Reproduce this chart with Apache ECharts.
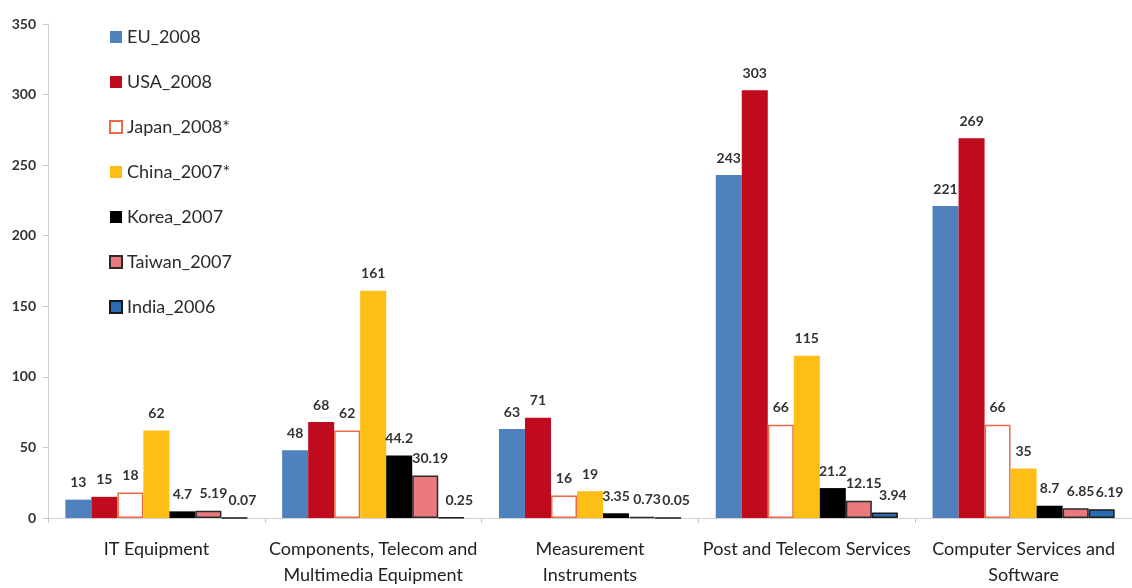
<!DOCTYPE html>
<html>
<head>
<meta charset="utf-8">
<script src="https://cdn.jsdelivr.net/npm/echarts@6/dist/echarts.min.js"></script>
<style>
  html, body { margin: 0; padding: 0; background: #fff; }
  #chart { width: 1132px; height: 588px; }
</style>
</head>
<body>
<div id="chart"></div>
<script>
const categories = ['IT Equipment', 'Components, Telecom and\nMultimedia Equipment', 'Measurement\nInstruments', 'Post and Telecom Services', 'Computer Services and\nSoftware']
const seriesNames = ['EU_2008', 'USA_2008', 'Japan_2008*', 'China_2007*', 'Korea_2007', 'Taiwan_2007', 'India_2006']
const eu = [13, 48, 63, 243, 221]
const usa = [15, 68, 71, 303, 269]
const japan = [18, 62, 16, 66, 66]
const china = [62, 161, 19, 115, 35]
const korea = [4.7, 44.2, 3.35, 21.2, 8.7]
const taiwan = [5.19, 30.19, 0.73, 12.15, 6.85]
const india = [0.07, 0.25, 0.05, 3.94, 6.19]
const yTicks = { min: 0, max: 350, interval: 50 }

const values = [eu, usa, japan, china, korea, taiwan, india]
// fill / border per series
const styles = [
  { color: '#4F81BD', borderColor: '#4F81BD', borderWidth: 0 },
  { color: '#C00A1E', borderColor: '#C00A1E', borderWidth: 0 },
  { color: '#ffffff', borderColor: '#EE6A45', borderWidth: 1.5 },
  { color: '#FDBE16', borderColor: '#FDBE16', borderWidth: 0 },
  { color: '#000000', borderColor: '#000000', borderWidth: 0 },
  { color: '#EB7A80', borderColor: '#2a2a2a', borderWidth: 1.5 },
  { color: '#2A6BB2', borderColor: '#1a1a1a', borderWidth: 1.5 },
]

const font = 'Lato, "Open Sans", sans-serif'

const chart = echarts.init(document.getElementById('chart'))

chart.setOption({
  animation: false,
  textStyle: { fontFamily: font },
  legend: {
    orient: 'vertical',
    left: 104,
    top: 23,
    itemGap: 27,
    itemWidth: 12,
    itemHeight: 12,
    icon: 'rect',
    textStyle: { fontSize: 18, color: '#2b2b2b', fontFamily: font },
    data: seriesNames,
  },
  grid: { left: 48, right: 0, top: 24, bottom: 65, containLabel: false },
  xAxis: {
    type: 'category',
    data: categories,
    axisLine: { lineStyle: { color: '#d0d0d0' } },
    axisTick: { show: true, alignWithLabel: false, length: 5, lineStyle: { color: '#c8c8c8' } },
    axisLabel: { color: '#222', fontSize: 18, margin: 18, lineHeight: 26, interval: 0, fontFamily: font },
  },
  yAxis: {
    type: 'value',
    min: yTicks.min,
    max: yTicks.max,
    interval: yTicks.interval,
    axisLine: { show: true, lineStyle: { color: '#d0d0d0' } },
    axisTick: { show: true, length: 5, lineStyle: { color: '#c8c8c8' } },
    splitLine: { show: false },
    axisLabel: { color: '#333', fontSize: 14, fontWeight: 'bold', margin: 12, fontFamily: font },
  },
  series: seriesNames.map((name, i) => ({
    name,
    type: 'bar',
    data: values[i],
    barGap: '0%',
    barCategoryGap: '16%',
    itemStyle: styles[i],
    label: {
      show: true,
      position: 'top',
      distance: 10,
      color: '#333',
      fontSize: 14,
      fontWeight: 'bold',
      fontFamily: font,
      offset: i === 6 ? [8, 0] : (i === 5 ? [5, 0] : [0, 0]),
    },
  })),
})
</script>
</body>
</html>
